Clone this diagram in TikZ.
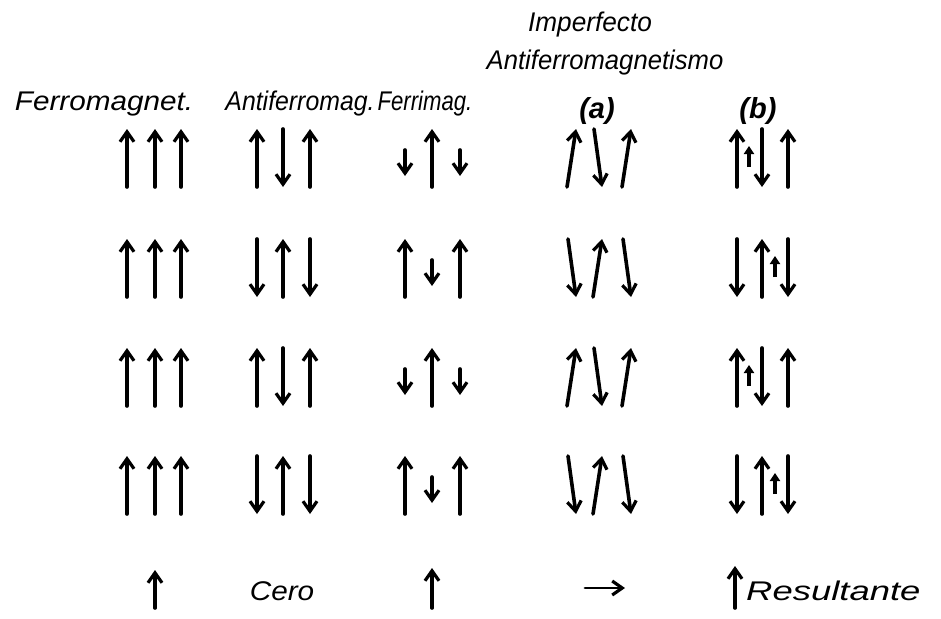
\documentclass[tikz,border=0pt]{standalone}
\usepackage{fontspec}
\usetikzlibrary{arrows.meta}
\newfontfamily\lettering{Liberation Sans}

% long spin pointing up or down: x, top, bottom
\newcommand\spinup[3]{\draw[spin] (#1,#3) -- (#1,#2);}
\newcommand\spindown[3]{\draw[spin] (#1,#2) -- (#1,#3);}
% hand lettering, stretched horizontally by #1
\newcommand\hand[2]{\scalebox{#1}[1]{#2}}

\begin{document}
\begin{tikzpicture}[x=1pt,y=-1pt,
  spin/.style={line width=3.6pt, line cap=round,
    -{Straight Barb[length=10pt,width=14pt,line width=3.2pt]}},
  minispin/.style={line width=3.4pt,
    -{Triangle[length=8pt,width=10pt]}},
  lbl/.style={font=\lettering\itshape\fontsize{27}{27}\selectfont, inner sep=0pt, anchor=base},
  lblbold/.style={font=\lettering\bfseries\itshape\fontsize{29}{29}\selectfont, inner sep=0pt, anchor=base}]
\useasboundingbox (0,0) rectangle (941,618);

% column headings
\node[lbl] (imp)  at (590,32)  {\hand{0.97}{Imperfecto}};
\node[lbl] (anti) at (605,70)  {\hand{0.95}{Antiferromagnetismo}};
\node[lbl] (fm)   at (104,110) {\hand{1.1}{Ferromagnet.}};
\node[lbl] (afm)  at (300,110) {\hand{0.92}{Antiferromag.}};
\node[lbl] (fim)  at (425,110) {\hand{0.82}{Ferrimag.}};
\node[lblbold] (ca) at (597,118) {(a)};
\node[lblbold] (cb) at (758,118) {(b)};

% four rows of moments
\foreach \yc/\odd in {158/1, 268/0, 377/1, 485/0} {
  \pgfmathsetmacro{\t}{\yc-29}
  \pgfmathsetmacro{\b}{\yc+29}
  % ferromagnet: all parallel
  \spinup{127}{\t}{\b}
  \spinup{155}{\t}{\b}
  \spinup{181}{\t}{\b}
  \ifnum\odd=1
    % antiferromagnet
    \spinup{257}{\t}{\b}
    \spindown{283}{\t}{\b}
    \spinup{310}{\t}{\b}
    % ferrimagnet
    \draw[spin] (405,\yc-8) -- (405,\yc+18);
    \spinup{432}{\t}{\b}
    \draw[spin] (460,\yc-8) -- (460,\yc+18);
    % imperfect (a): canted
    \draw[spin] (567,\b) -- (576,\t);
    \draw[spin] (594,\t) -- (602,\b);
    \draw[spin] (622,\b) -- (631,\t);
    % imperfect (b): small extra moment
    \spinup{737}{\t}{\b}
    \draw[minispin] (749,\yc+9) -- (749,\yc-12);
    \spindown{762}{\t}{\b}
    \spinup{788}{\t}{\b}
  \else
    \spindown{257}{\t}{\b}
    \spinup{283}{\t}{\b}
    \spindown{310}{\t}{\b}
    \spinup{405}{\t}{\b}
    \draw[spin] (432,\yc-8) -- (432,\yc+18);
    \spinup{460}{\t}{\b}
    \draw[spin] (568,\t) -- (576,\b);
    \draw[spin] (593,\b) -- (602,\t);
    \draw[spin] (623,\t) -- (631,\b);
    \spindown{737}{\t}{\b}
    \spinup{762}{\t}{\b}
    \draw[minispin] (775,\yc+9) -- (775,\yc-12);
    \spindown{788}{\t}{\b}
  \fi
}

% resultant moments
\spinup{155}{570}{608}
\node[lbl] (cero) at (282,600) {\hand{1.1}{Cero}};
\spinup{432}{568}{608}
\draw[spin, line width=2.8pt] (585,588) -- (625,588);
\spinup{735}{566}{608}
\node[lbl, anchor=base west] (res) at (746,600) {\hand{1.35}{Resultante}};
\end{tikzpicture}
\end{document}
